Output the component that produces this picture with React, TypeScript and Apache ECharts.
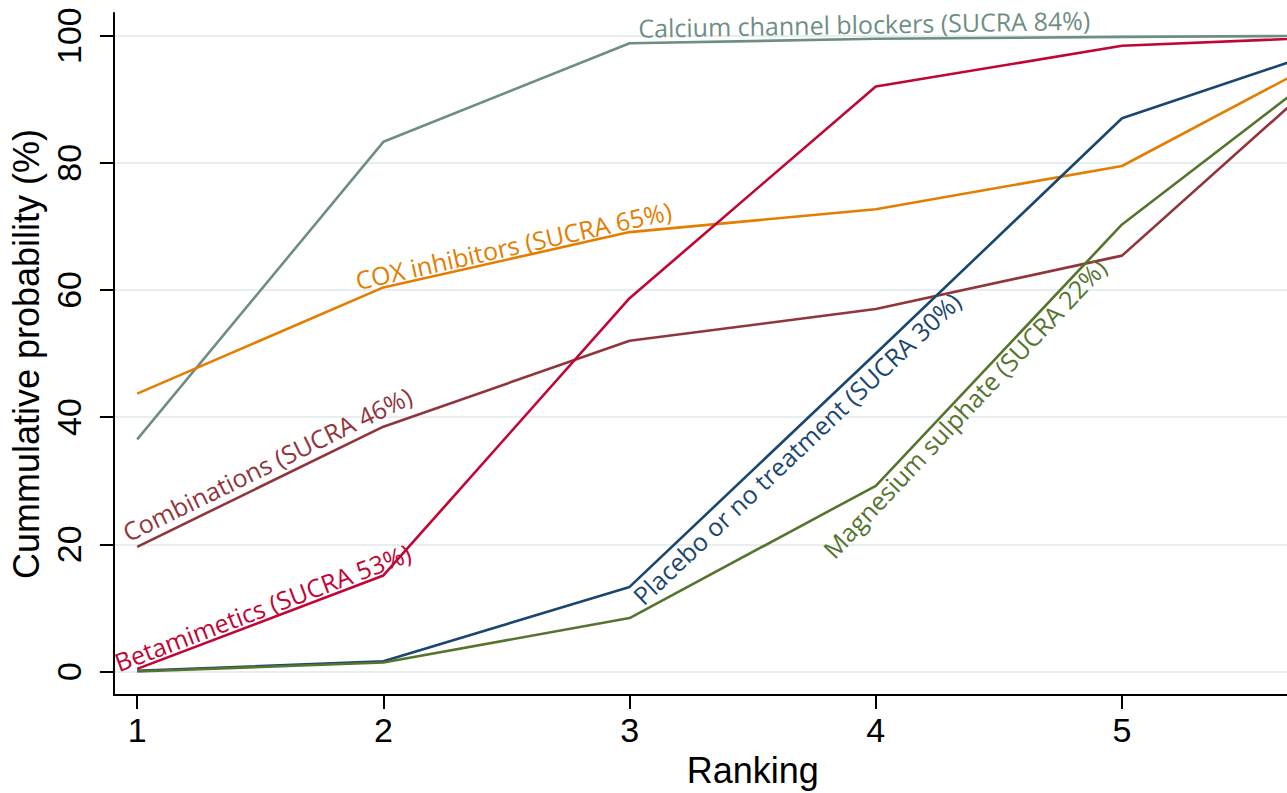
import React, { useEffect, useRef } from "react";
import * as echarts from "echarts";

// ---------- data ----------
const ranks = [1, 2, 3, 4, 5, 6];
const calciumChannelBlockers = [36.5, 83.3, 98.8, 99.5, 99.8, 100];
const coxInhibitors = [43.7, 60.4, 69.1, 72.7, 79.5, 100];
const combinations = [19.6, 38.5, 52.0, 57.0, 65.4, 100];
const betamimetics = [0.4, 15.1, 58.7, 92.0, 98.4, 100];
const placebo = [0.1, 1.6, 13.3, 50.0, 87.0, 100];
const magnesiumSulphate = [0.0, 1.4, 8.4, 29.2, 70.3, 100];

const seriesNames = [
  "Calcium channel blockers",
  "COX inhibitors",
  "Combinations",
  "Betamimetics",
  "Placebo or no treatment",
  "Magnesium sulphate",
];
const seriesValues = [
  calciumChannelBlockers,
  coxInhibitors,
  combinations,
  betamimetics,
  placebo,
  magnesiumSulphate,
];
const labelTexts = [
  "Calcium channel blockers (SUCRA 84%)",
  "COX inhibitors (SUCRA 65%)",
  "Combinations (SUCRA 46%)",
  "Betamimetics (SUCRA 53%)",
  "Placebo or no treatment (SUCRA 30%)",
  "Magnesium sulphate (SUCRA 22%)",
];
const xTickLabels = [1, 2, 3, 4, 5];
const yTicks = [0, 20, 40, 60, 80, 100];

// ---------- styling / placement ----------
const colors = ["#6e8e84", "#e37e00", "#90353b", "#c10534", "#1a476f", "#55752f"];
// label placement: start x (data), segment index followed, baseline offset (px, + = above)
const labelStartX = [3.037, 1.899, 0.978, 0.931, 2.99, 3.77];
const labelSegment = [2, 1, 0, 0, 2, 3];
const labelBaselineOffset = [5.5, 3, 8, 3.5, -24, -21];
const LABEL_FS = 25;

const CHART_W = 1420;
const CHART_H = 793;

export default function App() {
  const ref = useRef<HTMLDivElement>(null);

  useEffect(() => {
    document.body.style.margin = "0";
    document.body.style.overflow = "hidden";
    const el = ref.current!;
    const chart = echarts.init(el, null, { renderer: "svg" });

    const series = seriesNames.map((name, i) => ({
      name,
      type: "line",
      data: ranks.map((r, j) => [r, seriesValues[i][j]]),
      symbol: "none",
      clip: true,
      silent: true,
      lineStyle: { color: colors[i], width: 2.6 },
      itemStyle: { color: colors[i] },
      z: 3,
    }));

    const axisFont = "Liberation Sans";
    chart.setOption({
      animation: false,
      backgroundColor: "#ffffff",
      grid: { left: 112.7, right: 28.5, top: 13, bottom: 96 },
      xAxis: {
        type: "value",
        min: 0.9054,
        max: 6.0946,
        name: "Ranking",
        nameLocation: "middle",
        nameGap: 55,
        nameTextStyle: { fontSize: 36, color: "#000", fontFamily: axisFont },
        axisLine: { show: true, onZero: false, lineStyle: { color: "#000", width: 2 } },
        axisTick: {
          show: true,
          customValues: xTickLabels,
          length: 14,
          inside: false,
          lineStyle: { color: "#000", width: 2 },
        },
        axisLabel: {
          customValues: xTickLabels,
          fontSize: 34,
          color: "#000",
          fontFamily: axisFont,
          margin: 18,
          formatter: (v: number) => String(v),
        },
        splitLine: { show: false },
      },
      yAxis: {
        type: "value",
        min: -3.72,
        max: 103.56,
        name: "Cummulative probability (%)",
        nameLocation: "middle",
        nameGap: 68,
        nameTextStyle: { fontSize: 36, color: "#000", fontFamily: axisFont },
        axisLine: { show: true, onZero: false, lineStyle: { color: "#000", width: 2 } },
        axisTick: {
          show: true,
          customValues: yTicks,
          length: 14,
          inside: false,
          lineStyle: { color: "#000", width: 2 },
        },
        axisLabel: {
          customValues: yTicks,
          rotate: 90,
          fontSize: 34,
          color: "#000",
          fontFamily: axisFont,
          margin: 28,
          formatter: (v: number) => String(v),
        },
        splitLine: { show: true, lineStyle: { color: "#e6eeef", width: 2 } },
      },
      series,
    });

    const graphics = labelTexts.map((text, i) => {
      const s = labelSegment[i];
      const vals = seriesValues[i];
      const p1 = chart.convertToPixel({ gridIndex: 0 }, [ranks[s], vals[s]]) as number[];
      const p2 = chart.convertToPixel({ gridIndex: 0 }, [ranks[s + 1], vals[s + 1]]) as number[];
      const t = (labelStartX[i] - ranks[s]) / (ranks[s + 1] - ranks[s]);
      const px = p1[0] + t * (p2[0] - p1[0]);
      const py = p1[1] + t * (p2[1] - p1[1]);
      const theta = Math.atan2(-(p2[1] - p1[1]), p2[0] - p1[0]);
      const ux = -Math.sin(theta);
      const uy = -Math.cos(theta);
      const dc = labelBaselineOffset[i] + 0.39 * LABEL_FS;
      return {
        type: "text",
        x: px + ux * dc,
        y: py + uy * dc,
        rotation: theta,
        silent: true,
        z: 10,
        style: {
          text,
          fill: colors[i],
          fontSize: LABEL_FS,
          fontFamily: "Open Sans",
          align: "left",
          verticalAlign: "middle",
        },
      };
    });
    chart.setOption({ graphic: graphics });

    return () => chart.dispose();
  }, []);

  return (
    <div
      style={{
        position: "absolute",
        left: 0,
        top: 0,
        width: 1287,
        height: 793,
        overflow: "hidden",
        background: "#fff",
      }}
    >
      <div ref={ref} style={{ width: CHART_W, height: CHART_H }} />
    </div>
  );
}
